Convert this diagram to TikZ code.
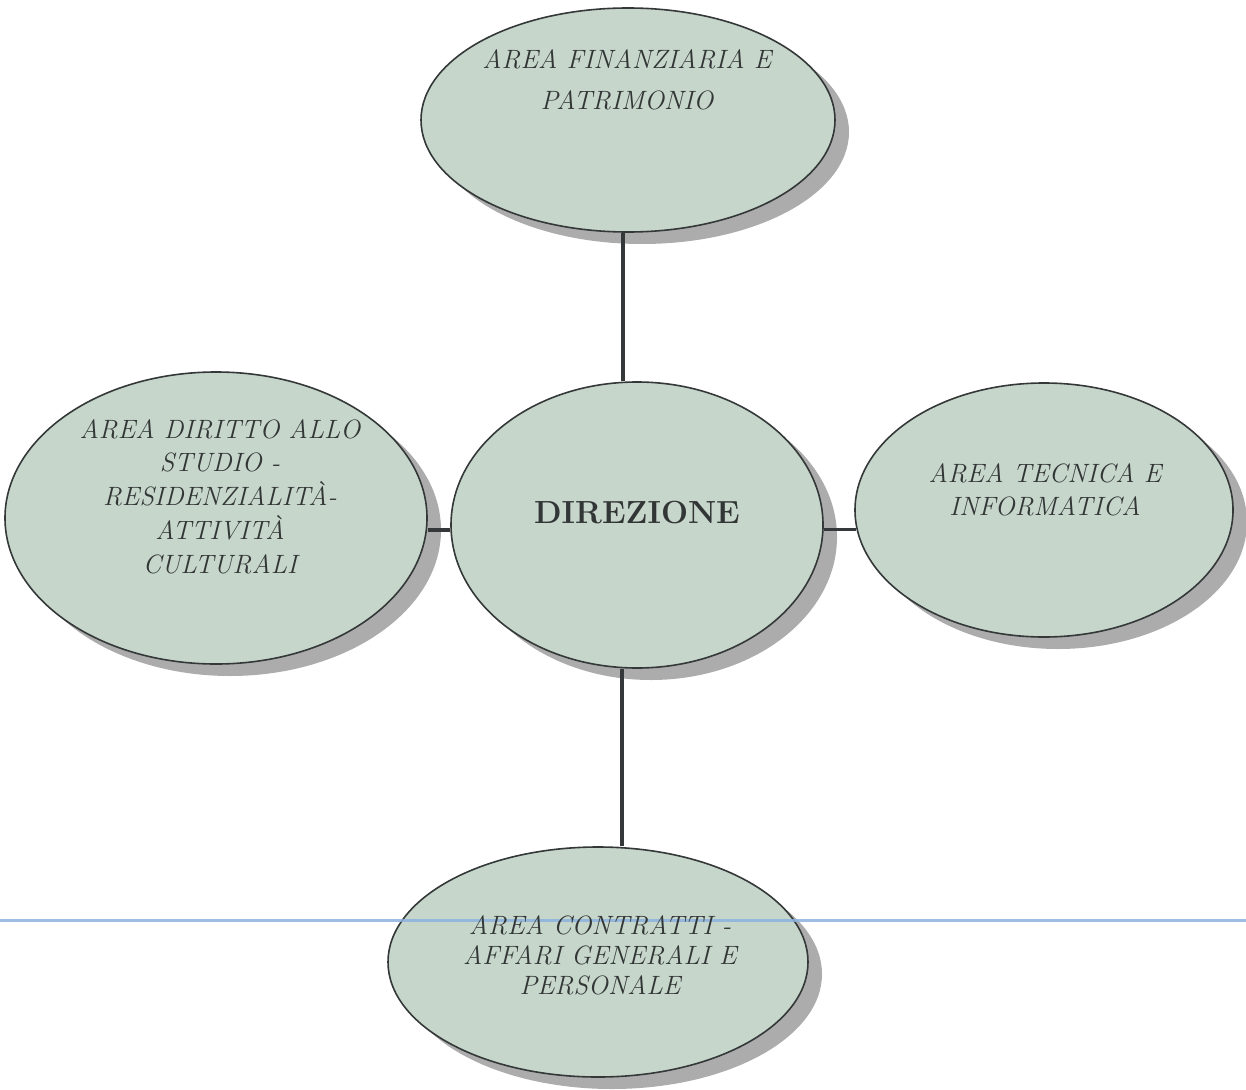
\documentclass[tikz,border=0pt]{standalone}
\usetikzlibrary{shapes.geometric,shadows}
\definecolor{areafill}{RGB}{198,214,203}
\definecolor{linedark}{RGB}{52,56,56}
\definecolor{textdark}{RGB}{50,54,54}
\definecolor{ruleblue}{RGB}{140,178,222}
\definecolor{shadowgray}{RGB}{172,172,172}
\tikzset{
  area/.style={ellipse, draw=linedark, line width=1.6pt, fill=areafill, inner sep=0pt,
    drop shadow={shadow xshift=14pt, shadow yshift=-12pt, fill=shadowgray, draw=none, opacity=1}},
  areatext/.style={align=center, text=textdark, anchor=base, inner sep=0pt},
  link/.style={draw=linedark, line width=3.5pt},
}
\begin{document}
\begin{tikzpicture}[x=1pt,y=-1pt]
\useasboundingbox (0,0) rectangle (1246,1089);
% ellipses
\node[area, minimum width=414pt, minimum height=224pt] (top) at (628,120) {};
\node[area, minimum width=372pt, minimum height=286pt] (dir) at (637,525) {};
\node[area, minimum width=422pt, minimum height=292pt] (left) at (216,518) {};
\node[area, minimum width=378pt, minimum height=254pt] (right) at (1044,510) {};
\node[area, minimum width=420pt, minimum height=230pt] (bot) at (598,962) {};
% connector guide coordinates
\coordinate (vx) at (623,0);
\coordinate (vb) at (622,0);
\coordinate (hy) at (0,530);
% connectors
\draw[link] (top.south -| vx) -- (dir.north -| vx);
\draw[link] (dir.south -| vb) -- (bot.north -| vb);
\draw[link] (left.east |- hy) -- (dir.west |- hy);
\draw[link] (dir.east |- right.186) -- (right.186);
% horizontal blue rule
\coordinate (ruleL) at (0,920);
\coordinate (ruleR) at (1246,920);
\draw[ruleblue, line width=3pt, opacity=0.85] (ruleL) -- (ruleR);
% texts (base anchor = baseline of the last line)
\node[areatext, font=\fontsize{26.5}{41}\selectfont\itshape] (ttop) at (627,110)
  {AREA FINANZIARIA E\\PATRIMONIO};
\node[areatext, font=\fontsize{32}{38}\selectfont\bfseries] (tdir) at (637,523)
  {DIREZIONE};
\node[areatext, font=\fontsize{26.5}{33.7}\selectfont\itshape] (tleft) at (220,573)
  {AREA DIRITTO ALLO\\STUDIO -\\RESIDENZIALITÀ-\\ATTIVITÀ\\CULTURALI};
\node[areatext, font=\fontsize{26.5}{33}\selectfont\itshape] (tright) at (1045,515)
  {AREA TECNICA E\\INFORMATICA};
\node[areatext, font=\fontsize{26.5}{30}\selectfont\itshape] (tbot) at (600,994)
  {AREA CONTRATTI -\\AFFARI GENERALI E\\PERSONALE};
\end{tikzpicture}
\end{document}
